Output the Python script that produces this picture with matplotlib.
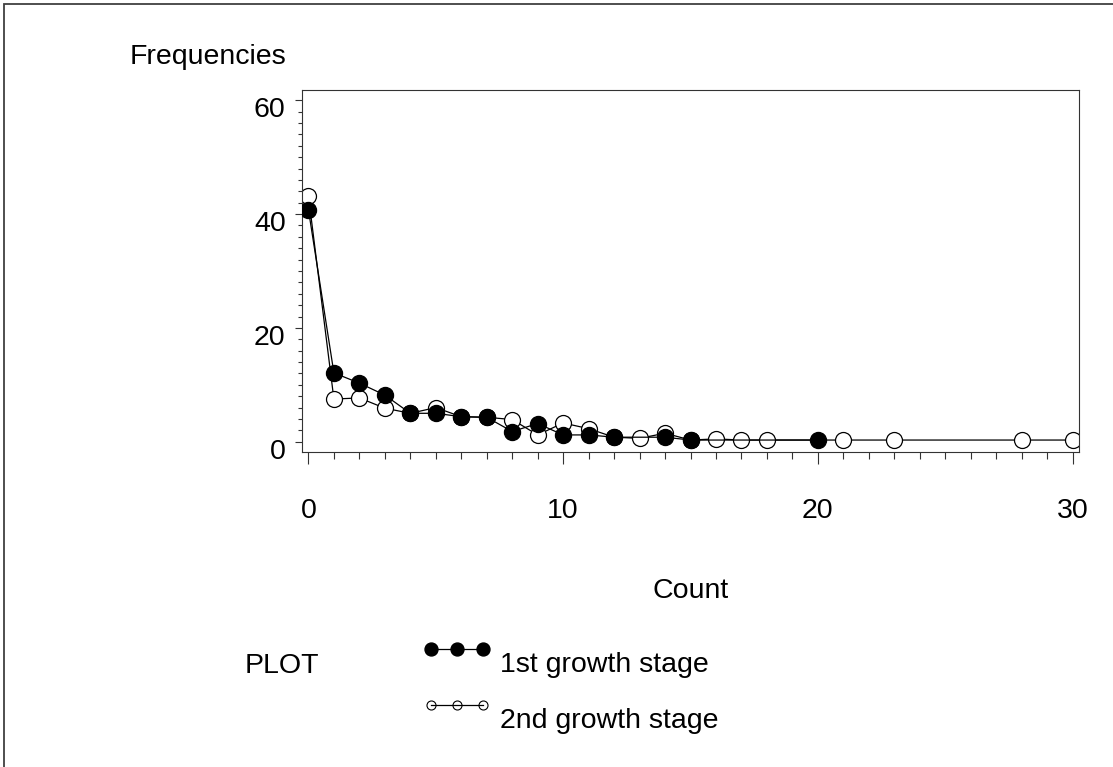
import numpy as np
import matplotlib
matplotlib.use("Agg")
import matplotlib.pyplot as plt
from matplotlib.lines import Line2D
from matplotlib.patches import Rectangle
from matplotlib.legend_handler import HandlerLine2D
from matplotlib.ticker import MultipleLocator
from matplotlib.transforms import ScaledTranslation

plt.rcParams['font.family'] = ['Liberation Sans', 'DejaVu Sans']

# counts and frequencies (%)
count_1st = [0, 1, 2, 3, 4, 5, 6, 7, 8, 9, 10, 11, 12, 14, 15, 20]
freq_1st = [40.8, 12.1, 10.3, 8.2, 5.0, 5.0, 4.4, 4.3, 1.8, 3.2, 1.2, 1.2, 0.8, 0.8, 0.3, 0.3]

count_2nd = [0, 1, 2, 3, 4, 5, 6, 7, 8, 9, 10, 11, 12, 13, 14, 15, 16, 17, 18, 21, 23, 28, 30]
freq_2nd = [43.2, 7.5, 7.7, 5.9, 5.0, 6.0, 4.4, 4.3, 3.9, 1.2, 3.3, 2.3, 0.8, 0.6, 1.5,
            0.3, 0.5, 0.3, 0.3, 0.3, 0.3, 0.3, 0.3]

labels = ["1st growth stage", "2nd growth stage"]
x_ticks = [0, 10, 20, 30]
y_ticks = [0, 20, 40, 60]

FS = 20.5
W, H = 1113, 767
fig = plt.figure(figsize=(W / 100, H / 100), dpi=100)
ax = fig.add_axes([302.3 / W, 1 - 452 / H, (1079 - 302.3) / W, (452 - 90) / H])

ax.plot(count_2nd, freq_2nd, color='black', lw=0.9, marker='o', ms=11.5,
        mfc='white', mec='black', mew=0.9, zorder=2)
ax.plot(count_1st, freq_1st, color='black', lw=0.9, marker='o', ms=11.5,
        mfc='black', mec='black', zorder=3)

ax.set_xlim(-0.24, 30.25)
ax.set_ylim(-1.8, 61.8)
ax.set_xticks(x_ticks)
ax.set_yticks(y_ticks)
ax.xaxis.set_minor_locator(MultipleLocator(1))
ax.yaxis.set_minor_locator(MultipleLocator(2))
ax.tick_params(axis='x', which='major', length=8.4, width=0.8, pad=24.5, labelsize=FS,
               colors='#333333', labelcolor='black')
ax.tick_params(axis='x', which='minor', length=4.8, width=0.8, colors='#333333')
ax.tick_params(axis='y', which='major', length=5, width=0.8, pad=7, labelsize=FS,
               colors='#333333', labelcolor='black')
ax.tick_params(axis='y', which='minor', length=2.9, width=0.8, colors='#333333')
for s in ax.spines.values():
    s.set_linewidth(0.8)
    s.set_color('#333333')

# y tick labels sit slightly below their ticks in the original
shift = ScaledTranslation(0, -7 / 100, fig.dpi_scale_trans)
for t in ax.yaxis.get_major_ticks():
    t.label1.set_transform(t.label1.get_transform() + shift)

ax_h = 452 - 90
ax.set_xlabel("Count", fontsize=FS)
ax.xaxis.set_label_coords(0.5, (452 - 598) / ax_h)
ax.xaxis.label.set_verticalalignment('baseline')
ax.set_ylabel("Frequencies", fontsize=FS, rotation=0)
ax.yaxis.set_label_coords((208 - 302.3) / (1079 - 302.3), (452 - 64) / ax_h)
ax.yaxis.label.set_verticalalignment('baseline')
ax.yaxis.label.set_horizontalalignment('center')


class RaisedLine(HandlerLine2D):
    # legend symbols sit a bit above the label text
    def create_artists(self, legend, orig_handle, xdescent, ydescent, width, height, fontsize, trans):
        arts = super().create_artists(legend, orig_handle, xdescent, ydescent, width, height, fontsize, trans)
        for a in arts:
            a.set_ydata(np.asarray(a.get_ydata()) + 0.46 * fontsize)
        return arts


h1 = Line2D([], [], color='black', lw=0.9, marker='o', ms=9.3, mfc='black', mec='black')
h2 = Line2D([], [], color='black', lw=0.9, marker='o', ms=6.5, mfc='none', mec='black', mew=0.8)
fig.legend([h1, h2], labels, loc='upper left', bbox_to_anchor=(422.5 / W, 1 - 652 / H),
           frameon=False, fontsize=FS, numpoints=3, handlelength=2.43, handletextpad=0.3,
           labelspacing=1.05, borderpad=0, borderaxespad=0,
           handler_map={Line2D: RaisedLine(numpoints=3)})

fig.text(245 / W, 1 - 673 / H, "PLOT", fontsize=FS, ha='left', va='baseline')

# outer frame (only left and top edges are inside the image)
fig.add_artist(Rectangle((3.5 / W, -0.2), 1.5, 1.2 - 3.5 / H, transform=fig.transFigure,
                         fill=False, edgecolor='#404040', lw=1.3))

fig.savefig("out.png", dpi=100)
